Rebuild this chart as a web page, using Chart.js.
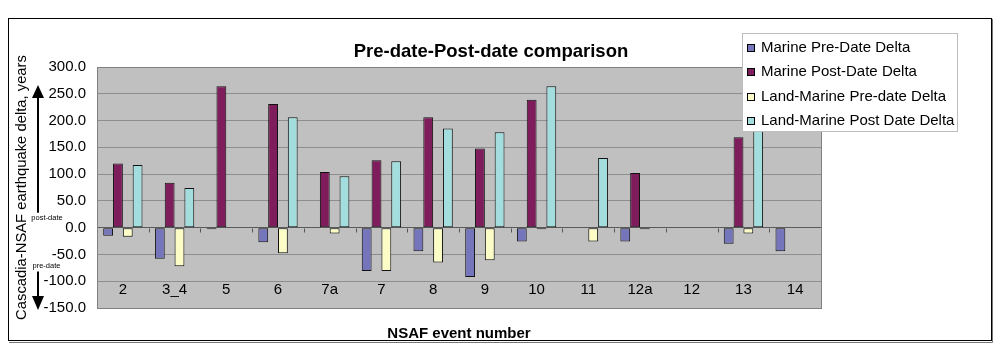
<!DOCTYPE html>
<html>
<head>
<meta charset="utf-8">
<script src="https://cdn.jsdelivr.net/npm/chart.js@4.4.1/dist/chart.umd.min.js"></script>
<style>
  html, body { margin: 0; padding: 0; background: #fff; }
  #wrap { width: 1000px; height: 357px; }
</style>
</head>
<body>
<div id="wrap"><canvas id="c" width="1000" height="357"></canvas></div>
<script>
// ---- data ----
const categories = ['2', '3_4', '5', '6', '7a', '7', '8', '9', '10', '11', '12a', '12', '13', '14'];
const marinePreDate  = [-15, -58, -3, -27, null, -81, -44, -92, -26, null, -26, null, -30, -44];
const marinePostDate = [120, 84, 264, 231, 104, 126, 206, 148, 239, null, 102, null, 169, null];
const landPreDate    = [-17, -72, null, -48, -11, -81, -65, -61, -3, -26, -3, null, -11, null];
const landPostDate   = [117, 74, null, 206, 96, 124, 185, 178, 264, 130, null, null, 245, null];
const seriesNames = ['Marine Pre-Date Delta', 'Marine Post-Date Delta', 'Land-Marine Pre-date Delta', 'Land-Marine Post Date Delta'];
const yTicks = { min: -150, max: 300, step: 50 };

const FONT = "'Liberation Sans', Arial, Helvetica, sans-serif";
const colors = ['#7575BB', '#7E1C5C', '#FCFCC6', '#A3DDDD'];

const decor = {
  id: 'decor',
  afterLayout(chart) {
    const tb = chart.titleBlock;
    if (tb) { tb.left = 8; tb.right = 974; tb.width = 966; }
  },
  beforeDraw(chart) {
    const { ctx, chartArea: a } = chart;
    ctx.save();
    ctx.fillStyle = '#ffffff';
    ctx.fillRect(0, 0, chart.width, chart.height);
    // outer frame
    ctx.strokeStyle = '#000';
    ctx.lineWidth = 1;
    ctx.strokeRect(8.5, 18.5, 983, 322);
    ctx.strokeStyle = '#777';
    ctx.beginPath();
    ctx.moveTo(992.5, 19); ctx.lineTo(992.5, 342.5); ctx.lineTo(9, 342.5);
    ctx.stroke();
    // plot area
    ctx.fillStyle = '#C0C0C0';
    ctx.fillRect(a.left, a.top, a.right - a.left, a.bottom - a.top);
    ctx.restore();
  },
  afterDatasetsDraw(chart) {
    const { ctx, chartArea: a, scales } = chart;
    ctx.save();
    ctx.strokeStyle = '#808080';
    ctx.lineWidth = 1;
    ctx.strokeRect(Math.round(a.left) + 0.5, Math.round(a.top) + 0.5, Math.round(a.right - a.left), Math.round(a.bottom - a.top));
    // tick marks on the zero axis between categories
    const y0 = Math.round(scales.y.getPixelForValue(0)) + 0.5;
    ctx.strokeStyle = '#555';
    ctx.beginPath();
    for (let i = 1; i < categories.length; i++) {
      const x = Math.round((scales.x.getPixelForValue(i - 1) + scales.x.getPixelForValue(i)) / 2) + 0.5;
      ctx.moveTo(x, y0); ctx.lineTo(x, y0 + 4);
    }
    ctx.stroke();
    ctx.restore();
  },
  afterDraw(chart) {
    const { ctx, scales } = chart;
    ctx.save();
    // arrows beside the y axis title
    const ax = 38;
    const yTop = scales.y.getPixelForValue(yTicks.max) + 18;
    const yPost = scales.y.getPixelForValue(0) - 15;
    const yPre = scales.y.getPixelForValue(-50) + 17;
    const yBot = scales.y.getPixelForValue(yTicks.min) + 2;
    ctx.strokeStyle = '#000'; ctx.fillStyle = '#000'; ctx.lineWidth = 2;
    ctx.beginPath(); ctx.moveTo(ax, yPost); ctx.lineTo(ax, yTop + 10); ctx.stroke();
    ctx.beginPath(); ctx.moveTo(ax, yTop); ctx.lineTo(ax - 6, yTop + 13); ctx.lineTo(ax + 6, yTop + 13); ctx.closePath(); ctx.fill();
    ctx.beginPath(); ctx.moveTo(ax, yPre); ctx.lineTo(ax, yBot - 10); ctx.stroke();
    ctx.beginPath(); ctx.moveTo(ax, yBot); ctx.lineTo(ax - 6, yBot - 14); ctx.lineTo(ax + 6, yBot - 14); ctx.closePath(); ctx.fill();
    ctx.font = '7.5px ' + FONT;
    ctx.textAlign = 'center'; ctx.textBaseline = 'middle';
    ctx.fillText('post-date', 47, yPost + 5);
    ctx.fillText('pre-date', 46.5, yPre - 6);

    // legend box
    const lx = 742, ly = 33, lw = 215, lh = 98;
    ctx.fillStyle = '#fff';
    ctx.fillRect(lx, ly, lw, lh);
    ctx.strokeStyle = '#BDBDBD'; ctx.lineWidth = 1;
    ctx.strokeRect(lx + 0.5, ly + 0.5, lw, lh);
    ctx.font = '15px ' + FONT;
    ctx.textAlign = 'left'; ctx.textBaseline = 'middle';
    chart.data.datasets.forEach((ds, i) => {
      const cy = 47.5 + i * 24.5;
      ctx.fillStyle = ds.backgroundColor;
      ctx.fillRect(747, Math.round(cy) - 4, 8, 8);
      ctx.strokeStyle = '#000';
      ctx.strokeRect(747.5, Math.round(cy) - 3.5, 7, 7);
      ctx.fillStyle = '#000';
      ctx.fillText(ds.label, 761, cy);
    });
    ctx.restore();
  }
};

const seriesValues = [marinePreDate, marinePostDate, landPreDate, landPostDate];

new Chart(document.getElementById('c'), {
  type: 'bar',
  data: {
    labels: categories,
    datasets: seriesValues.map((vals, i) => ({
      label: seriesNames[i],
      data: vals,
      backgroundColor: colors[i],
      borderColor: '#111',
      borderWidth: 1,
      borderSkipped: false,
      categoryPercentage: 0.76,
      barPercentage: 1.0
    }))
  },
  options: {
    responsive: false,
    devicePixelRatio: 1,
    animation: false,
    layout: { padding: { left: 8, right: 179, top: 18, bottom: 16 } },
    plugins: {
      legend: { display: false },
      tooltip: { enabled: false },
      title: {
        display: true,
        text: 'Pre-date-Post-date comparison',
        color: '#000',
        font: { family: FONT, size: 18.5, weight: 'bold', lineHeight: 1.2 },
        padding: { top: 23, bottom: 3.8 }
      }
    },
    scales: {
      x: {
        grid: { display: false, drawTicks: false },
        border: { display: false },
        ticks: {
          mirror: true, padding: 9, autoSkip: false, maxRotation: 0,
          color: '#000', font: { family: FONT, size: 15 }
        },
        title: {
          display: true, text: 'NSAF event number', color: '#000',
          font: { family: FONT, size: 15, weight: 'bold', lineHeight: 1 },
          padding: { top: 0, bottom: 0 }
        },
        afterFit(s) { s.height = 33; }
      },
      y: {
        min: yTicks.min, max: yTicks.max,
        grid: {
          drawTicks: false,
          color: (c) => (c.tick && c.tick.value === 0) ? '#5a5a5a' : '#8e8e8e',
          lineWidth: 1
        },
        border: { display: false },
        ticks: {
          stepSize: yTicks.step, padding: 11, color: '#000',
          font: { family: FONT, size: 15 },
          callback: (v) => Number(v).toFixed(1)
        },
        title: {
          display: true, text: 'Cascadia-NSAF earthquake delta, years', color: '#000',
          font: { family: FONT, size: 14.8, lineHeight: 1.2 },
          padding: { top: 5, bottom: 0 }
        },
        afterFit(s) { s.width = 89; }
      }
    }
  },
  plugins: [decor]
});
</script>
</body>
</html>
